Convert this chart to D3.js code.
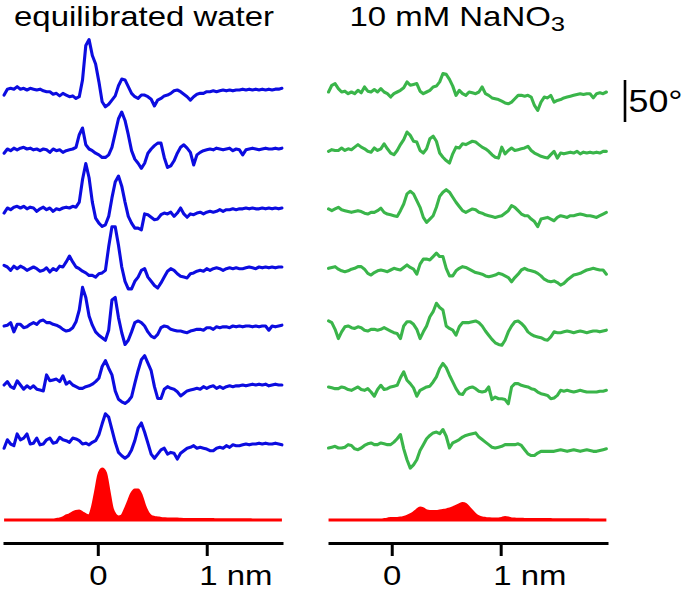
<!DOCTYPE html>
<html><head><meta charset="utf-8">
<script src="https://cdn.jsdelivr.net/npm/d3@7"></script>
<style>html,body{margin:0;padding:0;background:#fff;} svg{display:block;}</style>
</head><body>
<svg id="chart" width="685" height="591"></svg>
<script>
// ---------- DATA ----------
const panelTitles = ["equilibrated water", "10 mM NaNO", "3"];
const tickValues = [0, 1];
const tickLabels = ["0", "1 nm"];
const scaleBarDeg = 50;
const scaleBarLabel = "50°";

// sample positions (nm)
const gridWater = [-0.86,-0.83,-0.80,-0.77,-0.74,-0.71,-0.68,-0.65,-0.62,-0.59,-0.56,-0.53,-0.50,-0.47,-0.44,-0.41,-0.38,-0.35,-0.32,-0.29,-0.26,-0.23,-0.20,-0.17,-0.14,-0.11,-0.08,-0.05,-0.02,0.01,0.04,0.07,0.10,0.13,0.16,0.19,0.22,0.25,0.28,0.31,0.34,0.37,0.40,0.43,0.46,0.49,0.52,0.55,0.58,0.61,0.64,0.67,0.70,0.73,0.76,0.79,0.82,0.85,0.88,0.91,0.94,0.97,1.00,1.03,1.06,1.09,1.12,1.15,1.18,1.21,1.24,1.27,1.30,1.33,1.36,1.39,1.42,1.45,1.48,1.51,1.54,1.57,1.60,1.63,1.66,1.69];
const gridSalt = [-0.58,-0.55,-0.52,-0.49,-0.46,-0.43,-0.40,-0.37,-0.34,-0.31,-0.28,-0.25,-0.22,-0.19,-0.16,-0.13,-0.10,-0.07,-0.04,-0.01,0.02,0.05,0.08,0.11,0.14,0.17,0.20,0.23,0.26,0.29,0.32,0.35,0.38,0.41,0.44,0.47,0.50,0.53,0.56,0.59,0.62,0.65,0.68,0.71,0.74,0.77,0.80,0.83,0.86,0.89,0.92,0.95,0.98,1.01,1.04,1.07,1.10,1.13,1.16,1.19,1.22,1.25,1.28,1.31,1.34,1.37,1.40,1.43,1.46,1.49,1.52,1.55,1.58,1.61,1.64,1.67,1.70,1.73,1.76,1.79,1.82,1.85,1.88,1.91,1.94,1.97];

// phase traces (degrees), equilibrated water
const water1 = [-6,1,2,1,4,1,2,0,2,1,0,1,-1,-2,-2,-5,-4,-7,-4,-6,-8,-7,-10,-8,12,53,60,41,31,10,-14,-20,-17,-12,-7,5,13,12,4,-4,-8,-10,-6,-6,-8,-11,-19,-12,-10,-7,-6,-4,-1,0,-2,-5,-8,-12,-8,-5,-4,-4,-2,-2,-1,-2,-1,0,-1,0,-1,0,0,1,0,1,0,1,0,1,0,1,0,1,1,2];
const water2 = [-5,0,-2,1,-1,1,2,0,1,-1,0,-2,0,-1,-4,0,-2,-1,-4,-2,-1,0,2,17,25,5,0,-2,-5,-7,-10,-10,-7,2,19,36,44,34,17,-2,-12,-17,-23,-17,-5,0,4,7,7,-10,-22,-20,-14,-5,2,5,1,-4,-19,-7,-4,-2,-1,0,-1,1,0,-1,0,1,-2,0,-1,-7,-1,0,1,0,-1,0,1,0,0,1,0,1];
const water3 = [-6,0,-2,1,2,0,2,-1,1,0,-4,-1,1,-2,0,-4,-1,-2,0,1,0,2,1,7,34,53,36,7,-12,-18,-22,-20,-10,12,31,38,26,7,-10,-18,-24,-24,-26,-7,-8,-11,-14,-13,-8,-6,-7,-5,-10,-6,0,-7,-11,-7,-8,-6,-5,-7,-5,-4,-5,-4,-2,-4,-2,-2,-1,-2,-1,-1,0,-1,0,-1,-1,0,-1,0,-1,0,-1,0];
const water4 = [2,0,-4,1,-2,1,-1,-4,-2,0,-2,-5,-4,-1,-6,-2,-4,1,0,6,13,6,0,-2,-5,-7,-10,-10,-12,-8,-7,-4,24,48,48,26,0,-17,-26,-26,-17,-12,-4,-2,-12,-17,-22,-25,-19,-12,-5,-2,-4,-8,-11,-12,-13,-8,-7,-5,-4,-5,-2,-4,-2,-1,-2,-4,-2,-1,-2,-1,-2,-2,-1,0,-1,-2,0,-1,0,-1,0,-1,0,0];
const water5 = [0,1,4,-7,2,2,-2,-1,2,4,2,6,7,4,4,2,1,-1,-4,-6,-5,-2,5,19,46,34,12,1,-7,-11,-14,-17,-5,31,34,10,-8,-22,-17,-7,4,6,4,0,-7,-12,-14,-10,-2,0,-1,-4,-5,-6,-6,-7,-8,-6,-5,-4,-4,-5,-2,-2,-4,-1,-2,-1,-1,-2,0,-1,0,-1,0,0,-1,0,-1,0,0,-5,0,-1,0,1];
const water6 = [0,4,-2,-4,5,0,-5,-1,-4,-1,-5,-6,-7,12,5,6,7,4,11,1,4,0,-2,-4,-4,-2,-1,1,4,8,22,29,20,12,-7,-17,-20,-22,-19,-14,2,17,30,35,26,17,-2,-16,-16,-5,-2,-4,-5,-8,-13,-10,-7,-6,-5,-4,-5,-2,-4,-2,-1,-4,-2,-4,-2,-1,-2,-1,-1,0,-1,0,1,0,1,0,1,-1,0,1,0,0];
const water7 = [-5,5,0,-2,12,5,7,12,0,1,7,-1,0,5,7,1,2,8,5,4,2,7,6,4,0,1,-1,2,4,11,24,36,32,17,2,-10,-14,-17,-14,-7,4,19,25,14,1,-12,-17,-12,-7,-5,-12,-10,-11,-18,-11,-8,-5,-4,-2,-5,-4,-5,-6,-8,-8,-5,-4,-5,-2,-4,-1,-2,-2,-1,0,-1,0,0,1,0,1,0,0,1,0,-1];

// phase traces (degrees), 10 mM NaNO3
const salt1 = [0,8,10,4,0,1,-2,0,-2,2,-1,6,1,0,3,0,4,0,-2,-6,-2,0,2,5,12,8,9,10,1,-2,0,2,6,7,12,22,21,15,7,-4,2,-2,-4,0,-1,-2,0,6,-2,-4,-7,-8,-9,-11,-13,-14,-12,-8,-4,-4,-5,-4,-6,-16,-22,-12,-6,-7,-4,-12,-10,-9,-7,-6,-5,-4,-3,-2,-3,-2,-2,-7,-2,-1,-2,0];
const salt2 = [0,2,1,1,4,1,3,2,5,8,5,3,0,-1,4,1,3,9,3,-2,-4,1,8,14,23,19,12,11,1,-2,3,15,18,12,-2,-7,-11,-14,-3,5,4,9,8,10,12,11,8,5,3,0,-4,-7,-8,5,-3,1,4,1,2,3,4,6,1,-2,-4,-6,-7,-8,-4,0,-8,-2,-3,-2,-1,-2,0,-3,-1,-2,-1,-2,-1,-2,0,0];
const salt3 = [2,0,2,4,1,0,-1,-2,-1,0,-1,-3,-4,-2,-2,0,3,-2,-4,-5,-6,-7,0,8,20,23,20,12,4,-8,-14,-10,-6,4,17,22,25,22,16,10,5,0,-2,0,2,1,-2,-3,-5,-6,-7,-8,-7,-6,-3,0,6,4,0,-4,-6,-6,-10,-13,-19,-10,-9,-8,-10,-12,-8,-6,-7,-8,-6,-6,-5,-4,-5,-6,-6,-7,-8,-6,-4,-2];
const salt4 = [2,3,4,1,-1,-2,-1,1,2,4,4,1,-4,-6,-3,-1,0,-1,-2,0,2,1,0,3,6,3,1,-5,7,13,13,12,16,20,16,16,2,-7,-7,-1,2,4,3,1,-1,-3,-4,-5,-7,-8,-7,-6,-4,-5,-7,-9,-14,-9,-5,0,2,0,-1,-2,-4,-7,-11,-13,-14,-13,-15,-18,-16,-12,-9,-6,-5,-4,-2,0,1,2,1,0,0,-5];
const salt5 = [10,8,0,-11,-3,3,4,2,1,3,2,-1,-2,0,0,-1,0,2,0,-2,-4,-5,-11,4,9,9,6,0,-11,-3,4,15,21,31,26,23,4,1,-1,-7,3,8,8,8,9,10,8,4,-2,-7,-12,-16,-18,-19,-13,-3,4,9,10,7,3,-3,-6,-8,-9,-10,-12,-13,-9,-3,-4,-4,-3,-2,-3,-4,-3,-2,-3,-4,-3,-2,-2,-3,-2,-1];
const salt6 = [2,1,0,0,2,1,-1,-2,0,2,-1,-2,0,-4,-9,-1,4,-1,0,2,3,4,13,20,10,6,1,-9,-2,0,2,3,8,14,24,30,25,16,8,0,-6,-7,-1,1,2,0,-3,-4,-3,2,-13,-10,-12,-12,-13,-18,2,6,6,4,3,2,0,-1,-4,-6,-7,-8,-12,-11,-8,-2,-3,-2,-3,-4,-3,-2,-3,-4,-4,-4,-4,-3,-3,-2];
const salt7 = [0,1,2,0,0,1,4,3,-1,-2,0,3,5,6,4,4,6,5,4,4,7,11,16,-1,-14,-24,-20,-14,-3,4,11,15,18,19,17,22,14,0,6,8,10,13,15,16,17,18,13,10,7,4,1,0,1,2,4,4,4,4,5,3,-2,-7,-9,-9,-6,-4,-4,-4,-4,-4,-3,-2,-3,-4,-3,-2,-3,-4,-3,-2,-3,-4,-4,-3,-2,-1];

// atom density profiles (a.u.)
const densityWater = [0,0,0,0,0,0,0,0,0,0,0,0,0,0,0,0,0.5,1,2,4,5,7,8.5,9,7,5,4,12,28,45,51,47,30,12,5,3,4,10,18,26,30,30,24,14,7,3.5,2.5,2,1.5,1.2,1,1,0.8,0.8,0.6,0.5,0.5,0.5,0.4,0.4,0.4,0.3,0.3,0.3,0.3,0.2,0.2,0.2,0.2,0.2,0.1,0.1,0.1,0.1,0.1,0.1,0,0,0,0,0,0,0,0,0,0];
const densitySalt = [0,0,0,0,0,0,0,0,0,0,0,0,0,0,0,0,0,0.3,0.8,1.5,1.5,1.5,1.8,2.5,3.5,5,7,9.5,12,11,9,8.5,8.5,8.5,9,9.5,10,11,12,13.5,15,16.5,15.5,12,8.5,5,3,2,1.5,1.2,1,1,1,1.5,2.5,2,1,0.8,0.6,0.6,0.5,0.5,0.4,0.4,0.4,0.3,0.3,0.3,0.3,0.2,0.2,0.2,0.2,0.2,0.1,0.1,0.1,0.1,0.1,0.1,0,0,0,0,0,0];

const waterTraces = [water1, water2, water3, water4, water5, water6, water7];
const saltTraces = [salt1, salt2, salt3, salt4, salt5, salt6, salt7];

// ---------- DRAW ----------
const svg = d3.select("#chart");
const FONT = "'Liberation Sans', Arial, Helvetica, sans-serif";
const SX = 1.22;

const yDeg = d3.scaleLinear().domain([0, 50]).range([0, -42]);
const yDens = d3.scaleLinear().domain([0, 50]).range([0, -50]);
const densBase = 520;
const axisY = 543;

const panels = [
  { x: d3.scaleLinear().domain([-0.87, 1.70]).range([3, 283]),
    grid: gridWater, traces: waterTraces, dens: densityWater, color: "#0c0ce0",
    row: d3.scalePoint().domain(d3.range(7)).range([90, 444]) },
  { x: d3.scaleLinear().domain([-0.585, 1.985]).range([328, 608]),
    grid: gridSalt, traces: saltTraces, dens: densitySalt, color: "#3ab54a",
    row: d3.scalePoint().domain(d3.range(7)).range([92, 448]) }
];

panels.forEach(p => {
  const g = svg.append("g");
  const area = d3.area()
    .x((d, i) => p.x(p.grid[i]))
    .y0(densBase)
    .y1(d => densBase + yDens(d))
    .curve(d3.curveMonotoneX);
  g.append("path").datum(p.dens).attr("d", area)
    .attr("fill", "#ff0000").attr("stroke", "#ff0000").attr("stroke-width", 3.2);

  p.traces.forEach((tr, k) => {
    const line = d3.line()
      .x((d, i) => p.x(p.grid[i]))
      .y(d => p.row(k) + yDeg(d));
    g.append("path").datum(tr).attr("d", line)
      .attr("fill", "none").attr("stroke", p.color)
      .attr("stroke-width", 3.1).attr("stroke-linejoin", "round").attr("stroke-linecap", "round");
  });

  const ax = g.append("g").attr("transform", `translate(0,${axisY})`)
    .call(d3.axisBottom(p.x).tickValues(tickValues).tickSize(13).tickSizeOuter(0)
      .tickFormat((d, i) => tickLabels[i]));
  ax.attr("font-size", null).attr("font-family", null);
  ax.select(".domain").attr("stroke", "#000").attr("stroke-width", 3.2);
  ax.selectAll(".tick line").attr("stroke", "#000").attr("stroke-width", 3);
  ax.selectAll(".tick text")
    .attr("y", 42).attr("dy", 0)
    .attr("fill", "#000")
    .style("font-family", FONT).style("font-size", "27px")
    .attr("transform", `scale(${SX},1)`)
    .attr("text-anchor", (d, i) => i === 0 ? "middle" : "start")
    .attr("x", (d, i) => i === 0 ? 0 : -6.5);
});

// titles
svg.append("text").attr("transform", `translate(14,26) scale(${SX},1)`)
  .style("font-family", FONT).style("font-size", "27px").attr("fill", "#000")
  .text(panelTitles[0]);
const t2 = svg.append("text").attr("transform", `translate(349.5,26) scale(${SX},1)`)
  .style("font-family", FONT).style("font-size", "27px").attr("fill", "#000");
t2.append("tspan").text(panelTitles[1]);
t2.append("tspan").attr("dy", 5).style("font-size", "21px").text(panelTitles[2]);

// scale bar
const sbBottom = 122;
svg.append("line").attr("x1", 625).attr("x2", 625)
  .attr("y1", sbBottom).attr("y2", sbBottom + yDeg(scaleBarDeg))
  .attr("stroke", "#000").attr("stroke-width", 2.6);
svg.append("text").attr("transform", `translate(628.5,112) scale(1.12,1)`)
  .style("font-family", FONT).style("font-size", "32px").attr("fill", "#000")
  .text(scaleBarLabel);
</script>
</body></html>
